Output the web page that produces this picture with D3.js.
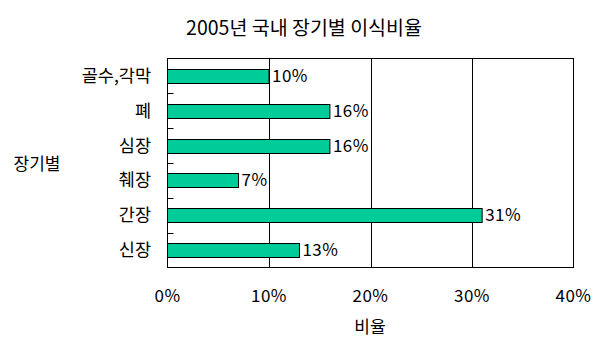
<!DOCTYPE html>
<html><head><meta charset="utf-8">
<script src="https://cdn.jsdelivr.net/npm/d3@7"></script>
<style>body{margin:0;background:#fff}svg{display:block}text{font-family:"Noto Sans CJK KR","DejaVu Sans",sans-serif;fill:#000}</style>
</head><body><svg id="c" width="605" height="355"></svg>
<script>
const categories = ["골수,각막","폐","심장","췌장","간장","신장"];
const values = [10,16,16,7,31,13];
const xTicks = [0,10,20,30,40];
const title = "2005년 국내 장기별 이식비율";
const xTitle = "비율";
const yTitle = "장기별";

const svg = d3.select("#c");
const L=167.5,R=573.5,T=58.5,B=267.5;
const x = d3.scaleLinear().domain([0,40]).range([L,R]);
const y = d3.scaleBand().domain(categories).range([T,B]).paddingInner(0.6).paddingOuter(0.3);
const yb = d3.scaleBand().domain(categories).range([T,B]);

svg.append("rect").attr("x",L).attr("y",T).attr("width",R-L).attr("height",B-T).attr("fill","#fff").attr("stroke","#000");
svg.selectAll(".grid").data(xTicks.slice(1,-1)).join("line")
  .attr("x1",d=>Math.round(x(d))+0.5).attr("x2",d=>Math.round(x(d))+0.5).attr("y1",T).attr("y2",B).attr("stroke","#000");
svg.selectAll(".yt").data(categories.slice(1)).join("line")
  .attr("x1",L).attr("x2",L+6).attr("y1",d=>Math.round(yb(d))+0.5).attr("y2",d=>Math.round(yb(d))+0.5).attr("stroke","#000");

svg.selectAll(".bar").data(categories).join("rect")
  .attr("x",L).attr("y",(d)=>Math.round(y(d))+0.5)
  .attr("width",(d,i)=>x(values[i])-L).attr("height",Math.round(y.bandwidth()))
  .attr("fill","#00CC99").attr("stroke","#000");

svg.selectAll(".vl").data(categories).join("text")
  .attr("x",(d,i)=>x(values[i])+3).attr("y",d=>yb(d)+yb.bandwidth()/2+6)
  .attr("font-size",17).attr("letter-spacing",0.5).text((d,i)=>values[i]+"%");

svg.selectAll(".cl").data(categories).join("text")
  .attr("x",151).attr("y",d=>yb(d)+yb.bandwidth()/2+6)
  .attr("text-anchor","end").attr("font-size",17.5).text(d=>d);

svg.selectAll(".xl").data(xTicks).join("text")
  .attr("x",d=>x(d)).attr("y",302).attr("text-anchor","middle").attr("font-size",17).attr("letter-spacing",0.5).text(d=>d+"%");

svg.append("text").attr("x",304).attr("y",35).attr("text-anchor","middle").attr("font-size",19.5).text(title);
svg.append("text").attr("x",370).attr("y",333).attr("text-anchor","middle").attr("font-size",17).text(xTitle);
svg.append("text").attr("x",37).attr("y",170).attr("text-anchor","middle").attr("font-size",17).text(yTitle);
</script></body></html>
